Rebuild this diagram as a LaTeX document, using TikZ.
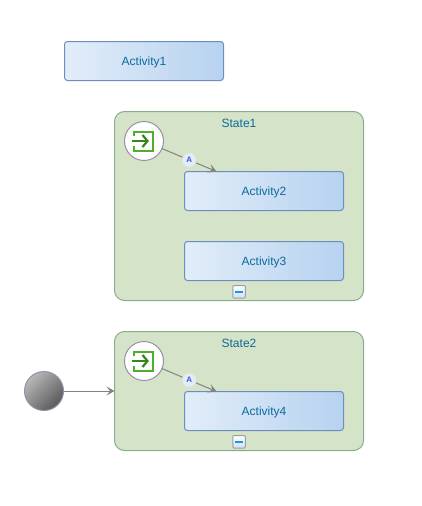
\documentclass[tikz,border=0pt]{standalone}
\usepackage{fontspec}
\setmainfont{Liberation Sans}
\usetikzlibrary{arrows.meta,calc,positioning}
\definecolor{ActFrom}{HTML}{E2EDF9}
\definecolor{ActTo}{HTML}{B7D2F0}
\definecolor{ActLine}{HTML}{6C8EBF}
\definecolor{StateFill}{HTML}{D5E3C8}
\definecolor{StateLine}{HTML}{86AE8C}
\definecolor{Label}{HTML}{0B6A9C}
\definecolor{Wire}{HTML}{808580}
\definecolor{IconGreen}{HTML}{4DB02A}
\definecolor{RingLine}{HTML}{9A8FA8}
\tikzset{
  activity/.style={
    rounded corners=3pt, draw=ActLine, line width=1pt, left color=ActFrom, right color=ActTo,
    minimum width=159pt, minimum height=39pt, inner sep=0pt, outer sep=0pt,
    text=Label, text height=9pt, text depth=1pt, font=\fontsize{12}{14}\selectfont
  },
  statebox/.style={
    rounded corners=10pt, draw=StateLine, line width=1pt, fill=StateFill,
    minimum width=249pt, inner sep=0pt, outer sep=0pt
  },
  statename/.style={text=Label, font=\fontsize{12}{14}\selectfont, inner sep=0pt},
  entry/.style={
    circle, draw=RingLine, line width=1pt, fill=white,
    minimum size=39pt, inner sep=0pt, outer sep=0pt
  },
  startball/.style={
    circle, draw=RingLine, line width=1pt,
    top color=black!28, bottom color=black!65, shading angle=45,
    minimum size=39pt, inner sep=0pt, outer sep=0pt
  },
  badge/.style={
    circle, draw=black!10, line width=1pt, fill=ActFrom, text=ActLine!60!blue,
    minimum size=13.5pt, inner sep=0pt, font=\fontsize{8}{8}\bfseries\selectfont
  },
  collapser/.style={
    rectangle, draw=black!38, line width=1pt, rounded corners=1pt,
    top color=white, bottom color=ActTo!70,
    minimum size=12.5pt, inner sep=0pt
  },
  dashbar/.style={draw=ActLine!40!cyan!70!blue, line width=2pt},
  wire/.style={-{Stealth[length=8pt,width=9pt,inset=3.5pt]}, line width=1pt, draw=Wire},
  entryicon/.pic={
    \draw[IconGreen, line width=2pt]
      (-10,5) -- (-10,9.5) -- (9,9.5) -- (9,-9.5) -- (-10,-9.5) -- (-10,-5);
    \draw[IconGreen!75!black, line width=2pt] (-12,0) -- (2.5,0);
    \draw[IconGreen!75!black, line width=2.2pt] (-1.5,6) -- (3.5,0) -- (-1.5,-6);
  }
}

\begin{document}
\begin{tikzpicture}[x=1pt,y=1pt]
  \useasboundingbox (0,0) rectangle (421,-506);
  \node[activity,anchor=north west] (act1) at (64.5,-41.5) {Activity1};

  % first state
  \node[statebox,minimum height=189pt,below right=31pt and 50pt of act1.south west] (state1) {};
  \node[statename,below=7pt of state1.north] (name1) {State1};
  \node[activity,below right=60pt and 70pt of state1.north west] (act2) {Activity2};
  \node[activity,below=31pt of act2] (act3) {Activity3};
  \node[entry] (entry1) at ($(state1.north west)+(29.5,-29.5)$) {};
  \pic at (entry1.center) {entryicon};
  \coordinate (in2) at ($(act2.north west)+(32,0)$);
  \draw[wire] (entry1) -- (in2) node[badge,pos=0.5] (badge1) {A};
  \node[collapser,above=2pt of state1.south] (minus1) {};
  \draw[dashbar] ($(minus1.center)+(-4,0)$) -- ($(minus1.center)+(4,0)$);

  % second state
  \node[statebox,minimum height=119pt,below=31pt of state1] (state2) {};
  \node[statename,below=7pt of state2.north] (name2) {State2};
  \node[activity,below right=60pt and 70pt of state2.north west] (act4) {Activity4};
  \node[entry] (entry2) at ($(state2.north west)+(29.5,-29.5)$) {};
  \pic at (entry2.center) {entryicon};
  \coordinate (in4) at ($(act4.north west)+(32,0)$);
  \draw[wire] (entry2) -- (in4) node[badge,pos=0.5] (badge2) {A};
  \node[collapser,above=2pt of state2.south] (minus2) {};
  \draw[dashbar] ($(minus2.center)+(-4,0)$) -- ($(minus2.center)+(4,0)$);

  \node[startball,left=51pt of state2.west] (start) {};
  \draw[wire] (start) -- (start -| state2.west);
\end{tikzpicture}
\end{document}
